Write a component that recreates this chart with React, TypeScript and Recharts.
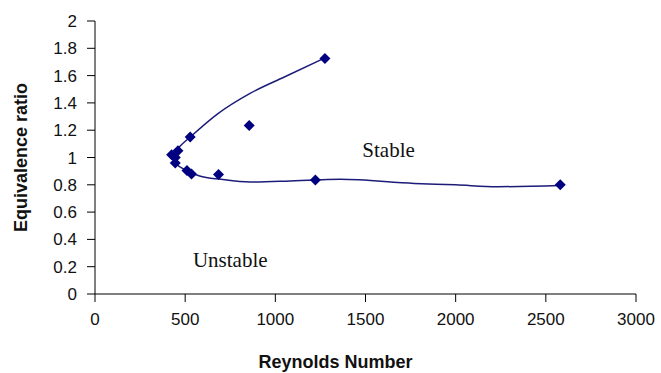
import React from "react"
import {
  ComposedChart, Scatter, Line, XAxis, YAxis, ReferenceDot,
} from "recharts"

// measured points (Reynolds number, equivalence ratio)
const reynolds = [425, 460, 445, 445, 510, 535, 685, 528, 855, 1222, 1275, 2580]
const ratio = [1.02, 1.05, 1.0, 0.96, 0.905, 0.88, 0.875, 1.15, 1.235, 0.835, 1.725, 0.8]

// trend curves
const upperX = [425, 470, 528, 680, 860, 1050, 1275]
const upperY = [1.0, 1.08, 1.15, 1.32, 1.47, 1.59, 1.73]
const lowerX = [425, 450, 500, 580, 700, 860, 1080, 1222, 1360, 1770, 2000, 2230, 2580]
const lowerY = [1.0, 0.955, 0.91, 0.865, 0.84, 0.82, 0.828, 0.835, 0.84, 0.81, 0.8, 0.786, 0.795]

const xTicks = [0, 500, 1000, 1500, 2000, 2500, 3000]
const yTicks = [0, 0.2, 0.4, 0.6, 0.8, 1, 1.2, 1.4, 1.6, 1.8, 2]

const points = reynolds.map((x, i) => ({ x, y: ratio[i] }))
const upper = upperX.map((x, i) => ({ x, y: upperY[i] }))
const lower = lowerX.map((x, i) => ({ x, y: lowerY[i] }))

const NAVY = "#000080"
const tickStyle = { fontSize: 17, fill: "#111", fontFamily: "Liberation Sans, Arial, sans-serif" }
const titleStyle = { fontSize: 18, fontWeight: 700, fill: "#111", fontFamily: "Liberation Sans, Arial, sans-serif" }
const noteStyle = { fontSize: 21, fill: "#111", fontFamily: "Liberation Serif, Times New Roman, serif" }

const Diamond = (props: any) => {
  const { cx, cy } = props
  if (cx == null || cy == null) return null
  const r = 5.5
  return <path d={`M${cx},${cy - r}L${cx + r},${cy}L${cx},${cy + r}L${cx - r},${cy}Z`} fill={NAVY} />
}

export default function App() {
  return (
    <div style={{ position: "absolute", left: 0, top: 0, width: 661, height: 373, background: "#fff" }}>
      <ComposedChart width={661} height={373} margin={{ top: 21, right: 25, left: 0, bottom: 0 }}>
        <XAxis
          type="number" dataKey="x" domain={[0, 3000]} ticks={xTicks}
          tick={tickStyle} tickSize={8} tickMargin={11} height={79}
          axisLine={{ stroke: "#000" }} tickLine={{ stroke: "#000" }}
          label={{ value: "Reynolds Number", position: "insideBottom", offset: 5, dx: -30, style: titleStyle }}
        />
        <YAxis
          type="number" dataKey="y" domain={[0, 2]} ticks={yTicks} width={95}
          tick={tickStyle} tickSize={8} tickMargin={10}
          axisLine={{ stroke: "#000" }} tickLine={{ stroke: "#000" }}
          label={{ value: "Equivalence ratio", angle: -90, position: "insideLeft", offset: 21, style: { ...titleStyle, textAnchor: "middle" } }}
        />
        <Line data={upper} dataKey="y" type="monotone" stroke="#1c1c78" strokeWidth={1.5} dot={false} isAnimationActive={false} />
        <Line data={lower} dataKey="y" type="monotone" stroke="#1c1c78" strokeWidth={1.5} dot={false} isAnimationActive={false} />
        <Scatter data={points} dataKey="y" shape={Diamond} isAnimationActive={false} />
        <ReferenceDot x={1628} y={1.06} r={0} fill="none" stroke="none"
          label={{ value: "Stable", position: "center", style: noteStyle }} />
        <ReferenceDot x={750} y={0.25} r={0} fill="none" stroke="none"
          label={{ value: "Unstable", position: "center", style: noteStyle }} />
      </ComposedChart>
    </div>
  )
}
